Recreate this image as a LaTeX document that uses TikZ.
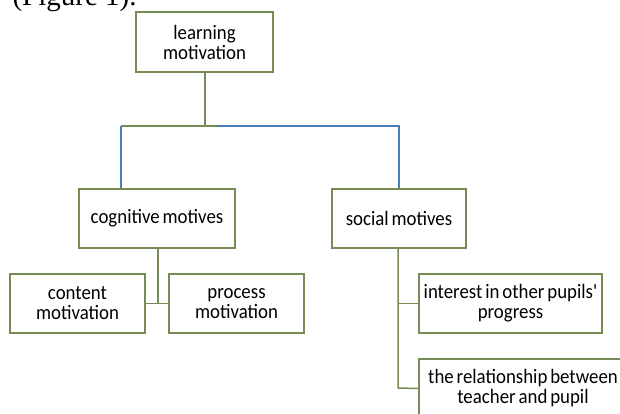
\documentclass[tikz,border=0pt]{standalone}
\usepackage{fontspec}
\setmainfont{Liberation Serif}
\newfontfamily\boxfont[FakeStretch=0.92]{Carlito}
\newcommand{\motivefont}{\boxfont\fontsize{20.5}{20}\selectfont\spaceskip=0.14em plus 0.05em\relax}
\definecolor{boxgreen}{RGB}{118,140,84}
\definecolor{linkblue}{RGB}{74,126,187}
\tikzset{
    motive/.style={draw=boxgreen, line width=1.5pt, fill=white, rectangle, align=center,
        minimum width=135pt, minimum height=59pt, inner sep=0pt, font=\motivefont},
    branch/.style={draw=boxgreen, line width=1.5pt},
    link/.style={draw=linkblue, line width=1.2pt} }
\usetikzlibrary{positioning}

\begin{document}
\begin{tikzpicture}[x=1pt, y=-1pt]
			\useasboundingbox (0,0) rectangle (620,414);
			\node[anchor=base west, font=\fontsize{29}{32}\selectfont] (caption) at (9,6) {(Figure 1).};
			\node[motive, minimum width=137pt, minimum height=60pt] (learning) at (204.5,42) {learning\\motivation};
			\node[motive, minimum width=156pt] (cognitive) at (157,218.5) {cognitive motives};
			\node[motive, minimum width=134pt] (social) at (399,218.5) {social motives};
			\node[motive] (content) at (77.5,303.5) {content\\motivation};
			\node[motive] (process) at (236.5,303.5) {process\\motivation};
			\node[motive, minimum width=183pt] (interest) at (510.5,303.5) {interest in other pupils'\\progress};
			\node[motive, minimum width=208pt] (relation) at (523,388.5) {the relationship between\\teacher and pupil};
			% ----
			\coordinate (tee) at (205,126);
			\coordinate (leftend) at (121,126);
			\coordinate (rightend) at (217,126);
			\coordinate (cornerr) at (399,126);
			\coordinate (cogfoot) at (158,303);
			\coordinate (socfoot) at (398,388);
			\draw[branch] (learning.south -| tee) -- (tee);
			\draw[branch] (leftend) -- (rightend);
			\draw[link] (leftend) -- (leftend |- cognitive.north);
			\draw[link] (rightend) -- (cornerr) -- (social.north);
			\draw[branch] (cognitive.south -| cogfoot) -- (cogfoot);
			\draw[branch] (content.east) -- (process.west);
			\draw[branch] (social.south -| socfoot) -- (socfoot) -- (relation.west);
			\draw[branch] (socfoot |- interest.west) -- (interest.west);
		\end{tikzpicture}
\end{document}
